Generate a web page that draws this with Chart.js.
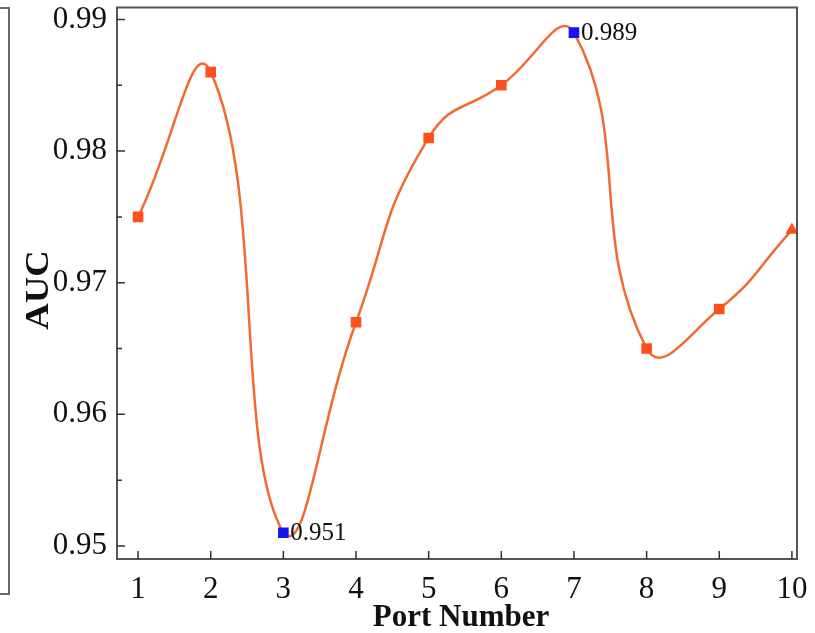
<!DOCTYPE html>
<html>
<head>
<meta charset="utf-8">
<script src="https://cdn.jsdelivr.net/npm/chart.js@4.4.1/dist/chart.umd.min.js"></script>
<style>
  html, body { margin: 0; padding: 0; background: #fff; }
  #wrap { position: relative; width: 815px; height: 633px; }
  #side { position: absolute; left: -2px; top: 7px; width: 10px; height: 584px; border: 2px solid #666; border-left: none; }
  canvas { position: absolute; left: 0; top: 0; }
</style>
</head>
<body>
<div id="wrap">
  <div id="side"></div>
  <canvas id="c" width="815" height="633"></canvas>
</div>
<script>
const ports = [1, 2, 3, 4, 5, 6, 7, 8, 9, 10];
const auc = [0.975, 0.986, 0.951, 0.967, 0.981, 0.985, 0.989, 0.965, 0.968, 0.974];
const highlighted = [3, 7];
const xTicks = [1, 2, 3, 4, 5, 6, 7, 8, 9, 10];
const yTicks = [0.95, 0.96, 0.97, 0.98, 0.99];
const yMinorTicks = [0.955, 0.965, 0.975, 0.985];

const ORANGE_LINE = '#F26A30';
const ORANGE_PT = '#FF4F1C';
const BLUE = '#1414F5';
const SERIF = '"Liberation Serif", "DejaVu Serif", serif';

const pointColors = ports.map(p => highlighted.includes(p) ? BLUE : ORANGE_PT);
const pointStyles = ports.map((p, i) => i === ports.length - 1 ? 'triangle' : 'rect');

const framePlugin = {
  id: 'frame',
  afterDraw(chart) {
    const { ctx, chartArea: a, scales } = chart;
    const xs = scales.x, ys = scales.y;
    ctx.save();
    ctx.strokeStyle = '#555';
    ctx.lineWidth = 2;
    ctx.strokeRect(a.left, a.top, a.right - a.left, a.bottom - a.top);
    ctx.lineWidth = 1.5;
    ctx.strokeStyle = '#333';
    ctx.beginPath();
    yTicks.forEach(v => { const y = ys.getPixelForValue(v); ctx.moveTo(a.left, y); ctx.lineTo(a.left + 8, y); });
    yMinorTicks.forEach(v => { const y = ys.getPixelForValue(v); ctx.moveTo(a.left, y); ctx.lineTo(a.left + 5, y); });
    xTicks.forEach(v => { const x = xs.getPixelForValue(v); ctx.moveTo(x, a.bottom); ctx.lineTo(x, a.bottom - 8); });
    ctx.stroke();
    // axis titles
    ctx.fillStyle = '#111';
    ctx.font = 'bold 31px ' + SERIF;
    ctx.textAlign = 'center';
    ctx.textBaseline = 'alphabetic';
    ctx.fillText('Port Number', 461, 626);
    ctx.save();
    ctx.translate(48, 290);
    ctx.rotate(-Math.PI / 2);
    ctx.scale(1.08, 1);
    ctx.font = 'bold 34px ' + SERIF;
    ctx.fillText('AUC', 0, 0);
    ctx.restore();
    // value labels for highlighted points
    ctx.font = '25px ' + SERIF;
    ctx.textAlign = 'left';
    ctx.textBaseline = 'middle';
    highlighted.forEach(p => {
      const i = ports.indexOf(p);
      const x = xs.getPixelForValue(ports[i]);
      const y = ys.getPixelForValue(auc[i]);
      ctx.fillText(auc[i].toFixed(3), x + 7, y + 1);
    });
    ctx.restore();
  }
};

new Chart(document.getElementById('c'), {
  type: 'line',
  data: {
    datasets: [{
      data: ports.map((p, i) => ({ x: p, y: auc[i] })),
      borderColor: ORANGE_LINE,
      borderWidth: 2.5,
      tension: 0.5,
      pointStyle: pointStyles,
      pointRadius: 7.5,
      pointHoverRadius: 7.5,
      pointBackgroundColor: pointColors,
      pointBorderColor: pointColors,
      pointBorderWidth: 0,
      clip: 0
    }]
  },
  options: {
    responsive: false,
    animation: false,
    events: [],
    layout: { padding: { top: 7, right: 18, left: 0, bottom: 0 } },
    plugins: { legend: { display: false }, tooltip: { enabled: false } },
    scales: {
      x: {
        type: 'linear',
        min: 0.71,
        max: 10.07,
        afterBuildTicks(s) { s.ticks = xTicks.map(v => ({ value: v })); },
        afterFit(s) { s.height = 74; s.paddingLeft = 0; s.paddingRight = 0; },
        grid: { display: false, drawTicks: false },
        border: { display: false },
        ticks: {
          padding: 12,
          color: '#111',
          font: { family: SERIF, size: 31 },
          maxRotation: 0,
          autoSkip: false
        }
      },
      y: {
        min: 0.94901,
        max: 0.99091,
        afterBuildTicks(s) { s.ticks = yTicks.map(v => ({ value: v })); },
        afterFit(s) { s.width = 117; s.paddingTop = 0; s.paddingBottom = 0; },
        grid: { display: false, drawTicks: false },
        border: { display: false },
        ticks: {
          padding: 10,
          color: '#111',
          font: { family: SERIF, size: 31 },
          callback: v => v.toFixed(2)
        }
      }
    }
  },
  plugins: [framePlugin]
});
</script>
</body>
</html>
